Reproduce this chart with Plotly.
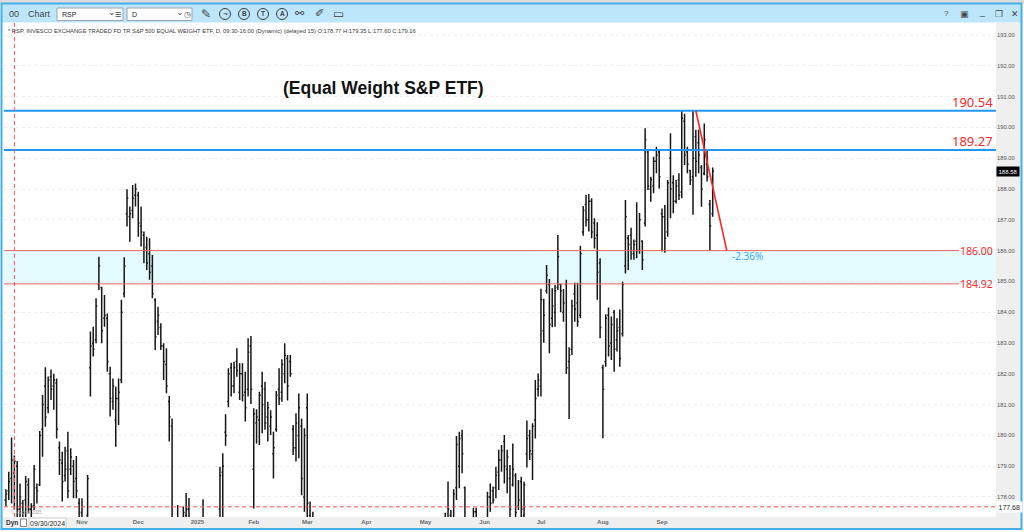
import pandas as pd
import plotly.graph_objects as go

# RSP daily bars as shown in the eSignal screenshot, 09/24/2024 - 09/26/2025.
# None = the bar lies completely below the visible price window.
start_date = "2024-09-24"
end_date = "2025-09-26"
market_holidays = ["2024-11-28", "2024-12-25", "2025-01-01", "2025-01-09", "2025-01-20",
                   "2025-02-17", "2025-04-18", "2025-05-26", "2025-06-19", "2025-07-04",
                   "2025-09-01"]
N = None

opens = (
    [177.7, 177.9, 178.2, 178.6, 178.77]  # Sep 2024
    + [179.0, 177.6, 177.8, 177.9, 178.4, 177.6, 177.7, 178.3, 178.4, 180.2, 181.6, 180.9,
       181.9, 181.6, 181.7, 179.6, 179.1, 178.7, 179.5, 178.9, 179.0, 178.6, 177.8]  # Oct
    + [177.5, N, 177.4, 182.2, 183.0, 183.1, 184.9, 184.8, 183.8, 183.8, 182.0, 181.1,
       180.5, 181.2, 181.8, 184.6, 187.2, 187.1, 187.3, 187.8]  # Nov
    + [187.8, 186.8, 186.5, 186.1, 185.9, 185.5, 184.4, 183.7, 183.5, 182.9, 182.3, 181.1,
       180.3, N, 175.8, N, 176.9, 177.4, 177.6, N, N]  # Dec
    + [N, N, 177.3, N, N, N, N, N, 177.6, 178.8, 180.1, 181.1, 182.2, 181.6, 182.4, 181.4,
       182.0, 181.4, 181.5, 182.9]  # Jan 2025
    + [178.9, 180.4, 180.5, 181.6, 181.5, 180.6, 180.3, 179.4, 180.2, 181.5, 181.4, 182.0,
       182.5, 182.4, 180.2, 179.6, 180.0, 180.3, 178.0]  # Feb
    + [180.9, 177.4, 176.6] + [N] * 18  # Mar
    + [N] * 21  # Apr
    + [N] * 7 + [176.6, 177.2, 177.4, 176.9, 178.3, 179.0, 180.0, 178.3, N, N, 176.5,
                 177.52, N, N]  # May
    + [N, 177.0, 178.0, 178.2, 178.3, 178.8, 179.2, 179.8, 178.9, 178.6, 178.4, 178.7,
       177.7, 178.5, 177.4, 179.4, 180.0, 179.4, 180.5, 181.5]  # Jun
    + [181.6, 183.4, 184.7, 184.9, 183.8, 184.0, 184.8, 184.9, 184.0, 184.9, 182.4, 182.8,
       184.6, 184.3, 183.9, 186.6, 187.5, 187.0, 187.6, 186.9, 186.5, 185.6]  # Jul
    + [182.2, 182.4, 183.9, 183.0, 184.0, 183.1, 183.5, 183.3, 185.5, 186.4, 186.5, 185.9,
       186.3, 186.0, 186.3, 186.9, 189.2, 188.0, 188.1, 188.9, 189.2]  # Aug
    + [187.2, 187.1, 186.6, 189.0, 188.2, 187.6, 188.3, 187.9, 190.2, 189.2, 188.6, 188.4,
       189.7, 189.5, 188.7, 188.5, 188.8, 187.5, 187.2]  # Sep
)

highs = (
    [178.0, 178.25, 178.82, 179.93, 179.35]
    + [179.17, 178.44, 177.9, 178.68, 178.61, 177.8, 179.04, 178.44, 180.14, 181.31, 182.21,
       181.91, 182.14, 182.0, 181.85, 179.8, 179.47, 179.63, 180.12, 179.58, 179.2, 179.33,
       177.96]
    + [177.96, N, 178.71, 183.37, 183.53, 184.45, 185.8, 184.83, 184.56, 183.96, 182.23,
       181.85, 181.58, 181.85, 184.4, 185.78, 187.99, 187.43, 188.13, 188.18]
    + [187.91, 187.43, 186.62, 186.45, 186.4, 185.86, 184.45, 184.18, 183.64, 182.99, 182.83,
       181.28, 180.55, N, 177.74, N, 177.69, 178.13, 177.97, N, N]
    + [N, N, 177.93, N, N, N, N, N, 178.98, 179.42, 180.69, 182.18, 182.36, 182.39, 182.83,
       182.34, 182.34, 182.07, 183.15, 183.23]
    + [180.88, 180.85, 181.42, 182.07, 181.74, 181.09, 180.82, 180.12, 181.44, 182.18, 182.47,
       182.99, 182.61, 182.61, 180.34, 180.72, 181.36, 180.55, 180.23]
    + [181.36, 177.85, 177.52] + [N] * 18
    + [N] * 21
    + [N] * 7 + [177.49, 178.5, 177.58, 178.25, 179.98, 180.12, 180.18, 178.34, N, N, 177.65,
                 177.65, N, N]
    + [N, 178.17, 178.44, 178.34, 178.98, 179.53, 179.69, 180.01, 179.53, 179.04, 179.74,
       178.77, 178.55, 178.66, 178.5, 180.48, 180.18, 180.39, 181.8, 182.01]
    + [184.76, 184.44, 185.53, 185.08, 184.78, 184.88, 186.51, 184.92, 184.75, 185.05, 182.86,
       184.4, 184.96, 184.96, 186.16, 187.45, 187.81, 187.84, 187.70, 187.05, 186.92, 185.75]
    + [182.29, 183.93, 184.15, 183.86, 184.07, 183.8, 184.09, 184.99, 187.64, 186.51, 186.74,
       186.36, 187.57, 187.22, 186.34, 189.97, 189.27, 188.40, 189.05, 189.37, 189.27]
    + [187.37, 187.48, 188.29, 189.81, 188.45, 188.29, 188.51, 190.56, 190.44, 189.37, 188.62,
       190.54, 189.92, 189.92, 188.78, 190.13, 189.27, 187.64, 188.70]
)

lows = (
    [177.5, 177.7, 177.9, 177.79, 177.60]
    + [177.2, 177.3, 177.1, 177.3, 177.47, 177.2, 177.58, 177.79, 178.36, 179.31, 180.28,
       180.72, 181.15, 180.83, 179.9, 178.71, 177.85, 178.5, 177.96, 178.71, 177.96, 177.96,
       177.0]
    + [177.1, N, 177.2, 181.26, 182.56, 182.99, 184.72, 182.99, 183.53, 182.07, 180.61,
       180.83, 179.63, 180.34, 181.69, 184.48, 186.78, 186.29, 187.05, 187.43]
    + [186.45, 186.13, 185.59, 185.37, 185.05, 184.45, 182.77, 183.26, 182.77, 181.8, 181.37,
       179.8, 175.5, N, 175.4, N, 176.8, 177.0, 176.5, N, N]
    + [N, N, 176.8, N, N, N, N, N, 177.0, 177.2, 179.66, 180.91, 181.26, 181.37, 181.9,
       181.15, 181.1, 180.45, 181.26, 181.02]
    + [177.63, 179.74, 179.69, 180.07, 180.18, 179.8, 180.01, 178.6, 180.12, 180.99, 181.09,
       181.69, 181.13, 181.9, 179.36, 179.15, 179.26, 178.06, 177.52]
    + [177.0, 176.0, 176.3] + [N] * 18
    + [N] * 21
    + [N] * 7 + [176.4, 177.0, 176.9, 176.7, 177.9, 178.28, 178.77, 176.5, N, N, 176.3,
                 176.6, N, N]
    + [N, 176.9, 177.52, 177.79, 177.96, 178.23, 178.82, 178.44, 178.12, 177.2, 178.34,
       177.2, 177.58, 177.2, 177.1, 178.96, 179.2, 178.55, 179.9, 181.26]
    + [181.26, 183.01, 184.61, 182.67, 183.51, 183.53, 184.72, 184.0, 183.69, 181.99, 180.53,
       182.61, 183.69, 183.53, 183.8, 186.48, 186.78, 186.62, 186.40, 186.07, 184.40, 183.15]
    + [179.91, 182.23, 182.56, 182.45, 182.07, 182.72, 182.23, 183.21, 185.26, 185.37, 185.7,
       185.7, 185.75, 185.9, 185.37, 186.78, 187.97, 187.59, 187.86, 188.51, 188.02]
    + [185.97, 185.93, 186.45, 187.05, 187.21, 187.53, 187.64, 187.70, 188.78, 188.51, 188.13,
       187.16, 188.40, 188.51, 187.42, 188.45, 188.24, 185.99, 187.10]
)

closes = (
    [177.9, 178.1, 178.5, 179.2, 179.16]
    + [177.6, 178.0, 177.5, 178.5, 177.6, 177.7, 178.9, 178.2, 180.0, 181.0, 180.6, 181.8,
       181.5, 181.8, 180.2, 179.2, 178.5, 178.9, 178.2, 179.3, 178.5, 178.2, 177.2]
    + [177.3, N, 178.6, 182.9, 182.8, 184.2, 185.5, 183.4, 183.9, 182.4, 181.2, 181.6,
       181.2, 181.4, 184.0, 185.5, 187.7, 187.2, 187.7, 188.0]
    + [186.9, 186.6, 186.0, 185.6, 185.3, 184.6, 183.2, 183.9, 182.9, 182.4, 181.6, 180.6,
       175.8, N, 177.2, N, 177.5, 177.6, 176.8, N, N]
    + [N, N, 177.0, N, N, N, N, N, 178.7, 179.0, 180.0, 182.0, 181.6, 182.2, 182.1, 182.0,
       181.3, 180.9, 182.7, 181.5]
    + [180.7, 180.6, 181.3, 181.0, 180.4, 180.9, 180.6, 179.6, 181.3, 181.2, 182.3, 182.6,
       181.6, 182.0, 179.6, 180.4, 180.9, 178.6, 180.0]
    + [177.8, 176.6, 177.2] + [N] * 18
    + [N] * 21
    + [N] * 7 + [177.3, 177.6, 177.2, 178.1, 179.7, 179.9, 179.4, 176.8, N, N, 177.52,
                 176.9, N, N]
    + [N, 178.0, 177.8, 177.9, 178.7, 179.2, 179.5, 179.0, 179.3, 177.6, 178.9, 177.5,
       177.9, 177.6, 178.4, 179.9, 179.5, 180.3, 181.2, 181.8]
    + [184.4, 183.9, 185.2, 183.6, 184.2, 184.7, 185.8, 184.7, 184.3, 182.2, 182.6, 184.2,
       184.1, 183.7, 185.9, 187.3, 187.0, 187.6, 186.6, 186.4, 185.3, 183.5]
    + [181.5, 183.8, 182.9, 183.6, 182.8, 183.4, 182.5, 184.9, 187.1, 186.2, 186.0, 186.2,
       186.0, 187.0, 185.7, 189.6, 188.1, 188.3, 188.9, 189.1, 188.4]
    + [187.1, 186.4, 188.2, 188.0, 187.6, 188.1, 187.8, 190.3, 189.1, 188.8, 188.3, 189.0,
       188.9, 189.1, 188.0, 189.6, 188.4, 186.8, 188.58]
)

# drawn levels
resistance_levels = [190.54, 189.27]
support_levels = [186.00, 184.92]
trend_start = ("2025-09-18", 190.54)
trend_end_day_offset = 11  # bars to the right of the start
trend_end_price = 186.00
trend_label = "-2.36%"
crosshair_date = "2024-09-30"
crosshair_price = 177.68

# build trading-day calendar
dates = pd.bdate_range(start_date, end_date)
dates = dates[~dates.isin(pd.to_datetime(market_holidays))]
df = pd.DataFrame({"date": dates, "open": opens, "high": highs, "low": lows, "close": closes})
df["day"] = range(len(df))
bars = df.dropna()
last_close = bars["close"].iloc[-1]

# month ticks at first trading day of each month (Oct is hidden behind the date box)
firsts = df.groupby(df["date"].dt.to_period("M"))["day"].first()
firsts = firsts[firsts.index >= pd.Period("2024-11", "M")]
tickvals = list(firsts.values)
ticktext = [p.strftime("%Y") if p.month == 1 else p.strftime("%b") for p in firsts.index]

day_of = dict(zip(df["date"].dt.strftime("%Y-%m-%d"), df["day"]))
cross_day = day_of[crosshair_date]
cross_bar = df.loc[cross_day]
trend_x0 = day_of[trend_start[0]]

# pixel -> paper helpers (plot area 4..996 x 23..517 in a 1024x532 page)
L, T, W, H = 4, 23, 992, 494
def px(x):
    return (x - L) / W
def py(y):
    return 1 - (y - T) / H

FONT = "Liberation Sans"
RED = "#f52a2a"
BLUE = "#2196f3"

fig = go.Figure(
    go.Ohlc(
        x=bars["day"], open=bars["open"], high=bars["high"], low=bars["low"], close=bars["close"],
        increasing=dict(line=dict(color="#161616", width=1.5)),
        decreasing=dict(line=dict(color="#161616", width=1.5)),
        tickwidth=0.45,
        hoverinfo="skip",
    )
)

shapes = [
    # window chrome
    dict(type="rect", xref="paper", yref="paper", x0=px(0), x1=px(1024), y0=py(0), y1=py(3.5),
         fillcolor="#dcdcdc", line_width=0, layer="below"),
    dict(type="rect", xref="paper", yref="paper", x0=px(2), x1=px(1021), y0=py(4), y1=py(22.5),
         fillcolor="#bee6fb", line_width=0, layer="below"),
    dict(type="rect", xref="paper", yref="paper", x0=px(996), x1=px(1021), y0=py(23), y1=py(517),
         fillcolor="#efefef", line_width=0, layer="below"),
    dict(type="rect", xref="paper", yref="paper", x0=px(2), x1=px(1021), y0=py(517), y1=py(528.5),
         fillcolor="#efefef", line_width=0, layer="below"),
    # symbol / interval boxes
    dict(type="rect", xref="paper", yref="paper", x0=px(57), x1=px(123), y0=py(8), y1=py(20.5),
         fillcolor="white", line=dict(color="#9aa4ad", width=1)),
    dict(type="rect", xref="paper", yref="paper", x0=px(127), x1=px(192), y0=py(8), y1=py(20.5),
         fillcolor="white", line=dict(color="#9aa4ad", width=1)),
    # support zone
    dict(type="rect", xref="paper", yref="y", x0=0, x1=1, y0=support_levels[1], y1=support_levels[0],
         fillcolor="#e4fcff", line_width=0, layer="below"),
    # date box on time axis
    dict(type="rect", xref="paper", yref="paper", x0=px(20.5), x1=px(26.5), y0=py(519), y1=py(526.5),
         fillcolor="white", line=dict(color="#8a8a8a", width=1)),
    dict(type="rect", xref="paper", yref="paper", x0=px(29), x1=px(66), y0=py(518), y1=py(528),
         fillcolor="white", line=dict(color="#d0d0d0", width=1)),
]
for lvl in resistance_levels:
    shapes.append(dict(type="line", xref="paper", yref="y", x0=0, x1=1, y0=lvl, y1=lvl,
                       line=dict(color=BLUE, width=2)))
for lvl in support_levels:
    shapes.append(dict(type="line", xref="paper", yref="y", x0=0, x1=px(959), y0=lvl, y1=lvl,
                       line=dict(color="#f06262", width=1)))
# trend line
shapes.append(dict(type="line", xref="x", yref="y", x0=trend_x0, y0=trend_start[1],
                   x1=trend_x0 + trend_end_day_offset, y1=trend_end_price,
                   line=dict(color="#ff2424", width=1.6)))
# crosshair
shapes.append(dict(type="line", xref="x", yref="paper", x0=cross_day, x1=cross_day, y0=0, y1=1,
                   line=dict(color="#ff5050", width=1, dash="4px,3px")))
shapes.append(dict(type="line", xref="paper", yref="y", x0=0, x1=1, y0=crosshair_price,
                   y1=crosshair_price, line=dict(color="#ff5050", width=1, dash="4px,3px")))
# toolbar circle icons
for cx in [225, 244, 263, 282]:
    shapes.append(dict(type="circle", xref="paper", yref="paper", x0=px(cx - 5.5), x1=px(cx + 5.5),
                       y0=py(8.5), y1=py(19.5), line=dict(color="#3c3c3c", width=1)))
# window border
shapes.append(dict(type="rect", xref="paper", yref="paper", x0=px(1.5), x1=px(1021.5), y0=py(3.5),
                   y1=py(529), line=dict(color="#45aeea", width=2), fillcolor="rgba(0,0,0,0)"))

def note(text, x, y, size=7, color="#333", xanchor="left", family=FONT, weight="normal", **kw):
    return dict(text=text, xref="paper", yref="paper", x=px(x), y=py(y), xanchor=xanchor,
                yanchor="middle", showarrow=False,
                font=dict(family=family, size=size, color=color, weight=weight), **kw)

header = ("* RSP, INVESCO EXCHANGE TRADED FD TR S&P 500 EQUAL WEIGHT ETF, D, 09:30-16:00 (Dynamic) "
          "(delayed 15) O:{:.2f} H:{:.2f} L:{:.2f} C:{:.2f}").format(
    cross_bar["open"], cross_bar["high"], cross_bar["low"], cross_bar["close"])

annotations = [
    # toolbar
    note("00", 7, 14, size=9, color="#444"),
    note("Chart", 26, 14, size=9, color="#444"),
    note("RSP", 60, 14.5, size=7, color="#222"),
    note("⌄", 106, 12.5, size=9, color="#444"),
    note("☰", 113, 14.5, size=7, color="#444"),
    note("D", 130, 14.5, size=7, color="#222"),
    note("⌄", 174, 12.5, size=9, color="#444"),
    note("◷", 182, 14.5, size=8, color="#444"),
    note("✎", 206, 14, size=12, color="#3c3c3c", xanchor="center"),
    note("~", 225, 13.5, size=9, color="#3c3c3c", xanchor="center"),
    note("B", 244, 14, size=6.5, color="#3c3c3c", xanchor="center", weight="bold"),
    note("T", 263, 14, size=6.5, color="#3c3c3c", xanchor="center", weight="bold"),
    note("A", 282, 14, size=6.5, color="#3c3c3c", xanchor="center", weight="bold"),
    note("⚯", 300, 14, size=11, color="#3c3c3c", xanchor="center", family="DejaVu Sans"),
    note("✐", 319, 14, size=11, color="#3c3c3c", xanchor="center", family="DejaVu Sans"),
    note("▭", 338, 13.5, size=12, color="#3c3c3c", xanchor="center", family="DejaVu Sans"),
    note("?", 946, 14, size=8, color="#444", xanchor="center"),
    note("▣", 964, 14, size=9, color="#444", xanchor="center", family="DejaVu Sans"),
    note("_", 982, 12, size=9, color="#444", xanchor="center"),
    note("❐", 999, 14, size=9, color="#444", xanchor="center", family="DejaVu Sans"),
    note("✕", 1015, 14, size=9, color="#444", xanchor="center", family="DejaVu Sans"),
    # header and title
    note(header, 6, 31, size=5.8, color="#3a3a3a"),
    note("(Equal Weight S&P ETF)", 383, 88, size=17.5, color="#111", xanchor="center", weight="bold"),
    # time axis extras
    note("Dyn", 4, 523, size=6.5, color="#333", weight="bold"),
    note(pd.Timestamp(crosshair_date).strftime("%m/%d/%Y"), 47.5, 523, size=7, color="#222",
         xanchor="center"),
    note("© eSignal 2025", 9, 512, size=4.5, color="#a8a8a8"),
    # trend label
    dict(text=trend_label, xref="x", yref="y", x=trend_x0 + trend_end_day_offset + 1.3,
         y=trend_end_price - 0.17, xanchor="left", yanchor="middle", showarrow=False,
         font=dict(family="Noto Sans", size=10, color="#42a5f5")),
    # axis value boxes
    dict(text=f"{last_close:.2f}", xref="paper", yref="y", x=1, y=last_close, xanchor="left",
         yanchor="middle", showarrow=False, bgcolor="#000", borderpad=1.5,
         font=dict(family=FONT, size=6, color="white")),
    dict(text=f"{crosshair_price:.2f}", xref="paper", yref="y", x=1, y=crosshair_price,
         xanchor="left", yanchor="middle", showarrow=False, bgcolor="white", borderpad=1.5,
         font=dict(family=FONT, size=7, color="#222")),
]
for lvl in resistance_levels:
    annotations.append(dict(text=f"{lvl:.2f}", xref="paper", yref="y", x=px(994.5), y=lvl,
                            xanchor="right", yanchor="bottom", yshift=-2, showarrow=False,
                            font=dict(family="Noto Sans", size=13, color=RED)))
for lvl in support_levels:
    annotations.append(dict(text=f"{lvl:.2f}", xref="paper", yref="y", x=px(994.5), y=lvl,
                            xanchor="right", yanchor="middle", showarrow=False,
                            font=dict(family="Noto Sans", size=10.5, color=RED)))

fig.update_layout(
    width=1024,
    height=532,
    margin=dict(l=L, r=1024 - L - W, t=T, b=532 - T - H),
    paper_bgcolor="white",
    plot_bgcolor="white",
    showlegend=False,
    dragmode=False,
    xaxis=dict(
        range=[0.31, 352.6],
        tickvals=tickvals,
        ticktext=ticktext,
        showgrid=False,
        zeroline=False,
        showline=False,
        ticks="",
        rangeslider=dict(visible=False),
        tickfont=dict(family=FONT, size=6, color="#6a6a6a", weight="bold"),
    ),
    yaxis=dict(
        side="right",
        range=[177.35, 193.39],
        tick0=178,
        dtick=1,
        tickformat=".2f",
        showgrid=True,
        gridcolor="#ececec",
        griddash="dot",
        gridwidth=1,
        zeroline=False,
        showline=False,
        ticks="",
        tickfont=dict(family=FONT, size=5.8, color="#555"),
    ),
    shapes=shapes,
    annotations=annotations,
)

# the page body has a default 8px margin; drop it so the 1024x532 figure fills the window
fig.write_html("out.html", config={"displayModeBar": False},
               post_script="document.body.style.margin='0px'; document.body.style.overflow='hidden';")
